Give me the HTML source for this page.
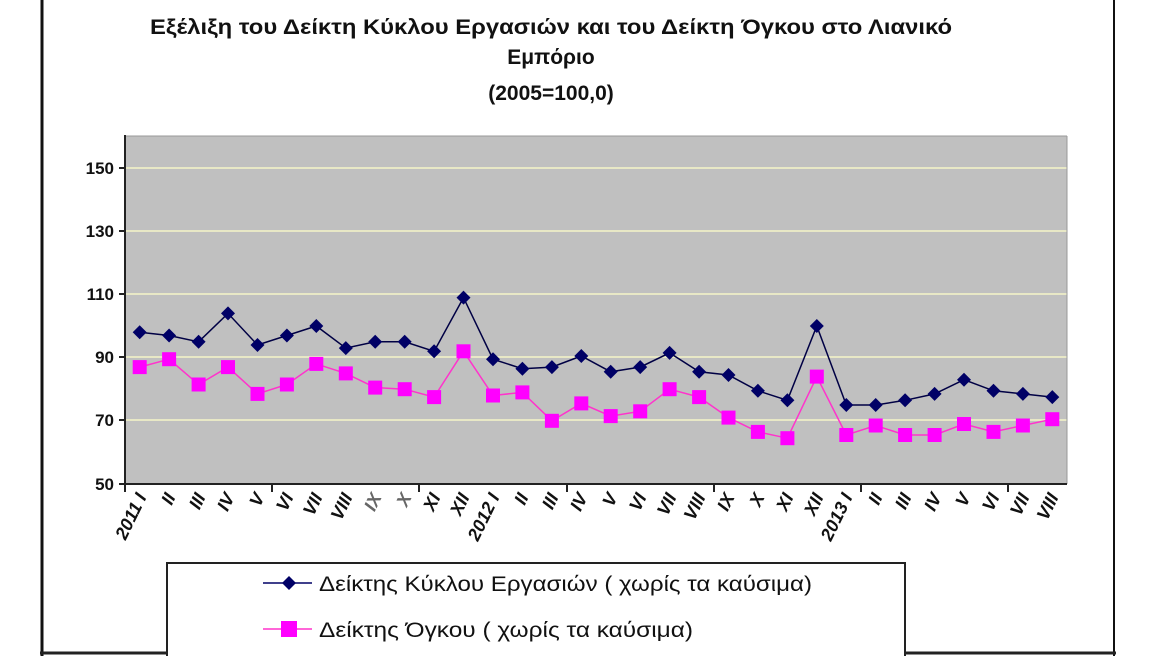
<!DOCTYPE html>
<html><head><meta charset="utf-8"><style>
html,body{margin:0;padding:0;background:#fff;}
svg{display:block;}
</style></head><body>
<svg width="1168" height="656" viewBox="0 0 1168 656" xmlns="http://www.w3.org/2000/svg" font-family="Liberation Sans, Arial, sans-serif">
<defs>
<symbol id="d" viewBox="-7 -7 14 14" overflow="visible"><polygon points="0,-7 7,0 0,7 -7,0" fill="#000066"/></symbol>
<symbol id="s" viewBox="-7 -7 14 14" overflow="visible"><rect x="-7" y="-7" width="14" height="14" fill="#ff00ff"/></symbol>
</defs>
<rect width="1168" height="656" fill="#fff"/>
<line x1="42" y1="0" x2="42" y2="656" stroke="#111" stroke-width="3"/>
<line x1="1114" y1="0" x2="1114" y2="656" stroke="#111" stroke-width="2"/>
<line x1="40" y1="653" x2="1116" y2="653" stroke="#222" stroke-width="3"/>
<g font-weight="bold" font-size="21" text-anchor="middle" fill="#111">
<text x="551" y="34" textLength="802" lengthAdjust="spacingAndGlyphs">Εξέλιξη του Δείκτη Κύκλου Εργασιών και του Δείκτη Όγκου στο Λιανικό</text>
<text x="551" y="64">Εμπόριο</text>
<text x="551" y="100">(2005=100,0)</text>
</g>
<rect x="125" y="136" width="942" height="348" fill="#c0c0c0"/>
<g stroke="#f5f5c8" stroke-width="1.5">
<line x1="125" y1="168" x2="1067" y2="168"/><line x1="125" y1="231" x2="1067" y2="231"/>
<line x1="125" y1="294" x2="1067" y2="294"/><line x1="125" y1="357" x2="1067" y2="357"/>
<line x1="125" y1="420" x2="1067" y2="420"/>
</g>
<line x1="125" y1="136" x2="1067" y2="136" stroke="#999"/>
<line x1="1067" y1="136" x2="1067" y2="484" stroke="#999"/>
<line x1="125" y1="135" x2="125" y2="492" stroke="#222" stroke-width="2"/>
<line x1="119" y1="484" x2="1067" y2="484" stroke="#222" stroke-width="2"/>
<g stroke="#222" stroke-width="2">
<line x1="119" y1="168" x2="125" y2="168"/><line x1="119" y1="231" x2="125" y2="231"/><line x1="119" y1="294" x2="125" y2="294"/><line x1="119" y1="357" x2="125" y2="357"/><line x1="119" y1="420" x2="125" y2="420"/>
<line x1="272" y1="484" x2="272" y2="492"/><line x1="419" y1="484" x2="419" y2="492"/><line x1="567" y1="484" x2="567" y2="492"/><line x1="714" y1="484" x2="714" y2="492"/><line x1="861" y1="484" x2="861" y2="492"/><line x1="1008" y1="484" x2="1008" y2="492"/>
</g>
<g font-weight="bold" font-size="17" text-anchor="end" fill="#111">
<text x="114" y="174">150</text><text x="114" y="237">130</text><text x="114" y="300">110</text><text x="114" y="363">90</text><text x="114" y="426">70</text><text x="114" y="490">50</text>
</g>
<polyline fill="none" stroke="#ff33cc" stroke-width="1.5" points="139.7,367.1 169.1,359.2 198.6,384.5 228,367.1 257.5,393.9 286.9,384.5 316.3,363.9 345.8,373.4 375.2,387.6 404.7,389.2 434.1,397.1 463.5,351.3 493,395.5 522.4,392.4 551.9,420.8 581.3,403.4 610.7,416.1 640.2,411.3 669.6,389.2 699.1,397.1 728.5,417.6 757.9,431.9 787.4,438.2 816.8,376.6 846.3,435 875.7,425.5 905.1,435 934.6,435 964,424 993.5,431.9 1022.9,425.5 1052.3,419.2"/>
<polyline fill="none" stroke="#000044" stroke-width="1.5" points="139.7,332.3 169.1,335.5 198.6,341.8 228,313.4 257.5,345 286.9,335.5 316.3,326 345.8,348.1 375.2,341.8 404.7,341.8 434.1,351.3 463.5,297.6 493,359.2 522.4,368.7 551.9,367.1 581.3,356 610.7,371.8 640.2,367.1 669.6,352.9 699.1,371.8 728.5,375 757.9,390.8 787.4,400.3 816.8,326 846.3,405 875.7,405 905.1,400.3 934.6,393.9 964,379.7 993.5,390.8 1022.9,393.9 1052.3,397.1"/>
<g>
<use href="#s" x="132.7" y="360.1" width="14" height="14"/><use href="#s" x="162.1" y="352.2" width="14" height="14"/><use href="#s" x="191.6" y="377.5" width="14" height="14"/><use href="#s" x="221" y="360.1" width="14" height="14"/><use href="#s" x="250.5" y="386.9" width="14" height="14"/><use href="#s" x="279.9" y="377.5" width="14" height="14"/><use href="#s" x="309.3" y="356.9" width="14" height="14"/><use href="#s" x="338.8" y="366.4" width="14" height="14"/><use href="#s" x="368.2" y="380.6" width="14" height="14"/><use href="#s" x="397.7" y="382.2" width="14" height="14"/><use href="#s" x="427.1" y="390.1" width="14" height="14"/><use href="#s" x="456.5" y="344.3" width="14" height="14"/><use href="#s" x="486" y="388.5" width="14" height="14"/><use href="#s" x="515.4" y="385.4" width="14" height="14"/><use href="#s" x="544.9" y="413.8" width="14" height="14"/><use href="#s" x="574.3" y="396.4" width="14" height="14"/><use href="#s" x="603.7" y="409.1" width="14" height="14"/><use href="#s" x="633.2" y="404.3" width="14" height="14"/><use href="#s" x="662.6" y="382.2" width="14" height="14"/><use href="#s" x="692.1" y="390.1" width="14" height="14"/><use href="#s" x="721.5" y="410.6" width="14" height="14"/><use href="#s" x="750.9" y="424.9" width="14" height="14"/><use href="#s" x="780.4" y="431.2" width="14" height="14"/><use href="#s" x="809.8" y="369.6" width="14" height="14"/><use href="#s" x="839.3" y="428" width="14" height="14"/><use href="#s" x="868.7" y="418.5" width="14" height="14"/><use href="#s" x="898.1" y="428" width="14" height="14"/><use href="#s" x="927.6" y="428" width="14" height="14"/><use href="#s" x="957" y="417" width="14" height="14"/><use href="#s" x="986.5" y="424.9" width="14" height="14"/><use href="#s" x="1015.9" y="418.5" width="14" height="14"/><use href="#s" x="1045.3" y="412.2" width="14" height="14"/>
</g>
<g>
<use href="#d" x="132.7" y="325.3" width="14" height="14"/><use href="#d" x="162.1" y="328.5" width="14" height="14"/><use href="#d" x="191.6" y="334.8" width="14" height="14"/><use href="#d" x="221" y="306.4" width="14" height="14"/><use href="#d" x="250.5" y="338" width="14" height="14"/><use href="#d" x="279.9" y="328.5" width="14" height="14"/><use href="#d" x="309.3" y="319" width="14" height="14"/><use href="#d" x="338.8" y="341.1" width="14" height="14"/><use href="#d" x="368.2" y="334.8" width="14" height="14"/><use href="#d" x="397.7" y="334.8" width="14" height="14"/><use href="#d" x="427.1" y="344.3" width="14" height="14"/><use href="#d" x="456.5" y="290.6" width="14" height="14"/><use href="#d" x="486" y="352.2" width="14" height="14"/><use href="#d" x="515.4" y="361.7" width="14" height="14"/><use href="#d" x="544.9" y="360.1" width="14" height="14"/><use href="#d" x="574.3" y="349" width="14" height="14"/><use href="#d" x="603.7" y="364.8" width="14" height="14"/><use href="#d" x="633.2" y="360.1" width="14" height="14"/><use href="#d" x="662.6" y="345.9" width="14" height="14"/><use href="#d" x="692.1" y="364.8" width="14" height="14"/><use href="#d" x="721.5" y="368" width="14" height="14"/><use href="#d" x="750.9" y="383.8" width="14" height="14"/><use href="#d" x="780.4" y="393.3" width="14" height="14"/><use href="#d" x="809.8" y="319" width="14" height="14"/><use href="#d" x="839.3" y="398" width="14" height="14"/><use href="#d" x="868.7" y="398" width="14" height="14"/><use href="#d" x="898.1" y="393.3" width="14" height="14"/><use href="#d" x="927.6" y="386.9" width="14" height="14"/><use href="#d" x="957" y="372.7" width="14" height="14"/><use href="#d" x="986.5" y="383.8" width="14" height="14"/><use href="#d" x="1015.9" y="386.9" width="14" height="14"/><use href="#d" x="1045.3" y="390.1" width="14" height="14"/>
</g>
<g font-weight="bold" font-style="italic" font-size="18" text-anchor="end" fill="#111">
<text transform="translate(147,497) rotate(-64)">2011 I</text>
<text transform="translate(176,497) rotate(-64)">II</text>
<text transform="translate(206,497) rotate(-64)">III</text>
<text transform="translate(235,497) rotate(-64)">IV</text>
<text transform="translate(265,497) rotate(-64)">V</text>
<text transform="translate(294,497) rotate(-64)">VI</text>
<text transform="translate(323,497) rotate(-64)">VII</text>
<text transform="translate(353,497) rotate(-64)">VIII</text>
<text transform="translate(382,497) rotate(-64)" fill="#666">IX</text>
<text transform="translate(412,497) rotate(-64)" fill="#666">X</text>
<text transform="translate(441,497) rotate(-64)">XI</text>
<text transform="translate(470,497) rotate(-64)">XII</text>
<text transform="translate(500,497) rotate(-64)">2012 I</text>
<text transform="translate(529,497) rotate(-64)">II</text>
<text transform="translate(559,497) rotate(-64)">III</text>
<text transform="translate(588,497) rotate(-64)">IV</text>
<text transform="translate(618,497) rotate(-64)">V</text>
<text transform="translate(647,497) rotate(-64)">VI</text>
<text transform="translate(677,497) rotate(-64)">VII</text>
<text transform="translate(706,497) rotate(-64)">VIII</text>
<text transform="translate(735,497) rotate(-64)">IX</text>
<text transform="translate(765,497) rotate(-64)">X</text>
<text transform="translate(794,497) rotate(-64)">XI</text>
<text transform="translate(824,497) rotate(-64)">XII</text>
<text transform="translate(853,497) rotate(-64)">2013 I</text>
<text transform="translate(883,497) rotate(-64)">II</text>
<text transform="translate(912,497) rotate(-64)">III</text>
<text transform="translate(942,497) rotate(-64)">IV</text>
<text transform="translate(971,497) rotate(-64)">V</text>
<text transform="translate(1000,497) rotate(-64)">VI</text>
<text transform="translate(1030,497) rotate(-64)">VII</text>
<text transform="translate(1059,497) rotate(-64)">VIII</text>
</g>
<rect x="167" y="563" width="738" height="100" fill="#fff" stroke="#222" stroke-width="2"/>
<line x1="263" y1="583" x2="312" y2="583" stroke="#000066" stroke-width="1.5"/>
<use href="#d" x="282" y="576" width="14" height="14"/>
<line x1="263" y1="629" x2="312" y2="629" stroke="#ff33cc" stroke-width="1.5"/>
<use href="#s" x="281" y="621" width="16" height="16"/>
<g font-size="21" fill="#111">
<text x="319" y="591" textLength="493" lengthAdjust="spacingAndGlyphs">Δείκτης Κύκλου Εργασιών ( χωρίς  τα καύσιμα)</text>
<text x="319" y="637" textLength="374" lengthAdjust="spacingAndGlyphs">Δείκτης Όγκου ( χωρίς  τα καύσιμα)</text>
</g>
</svg>
</body></html>
